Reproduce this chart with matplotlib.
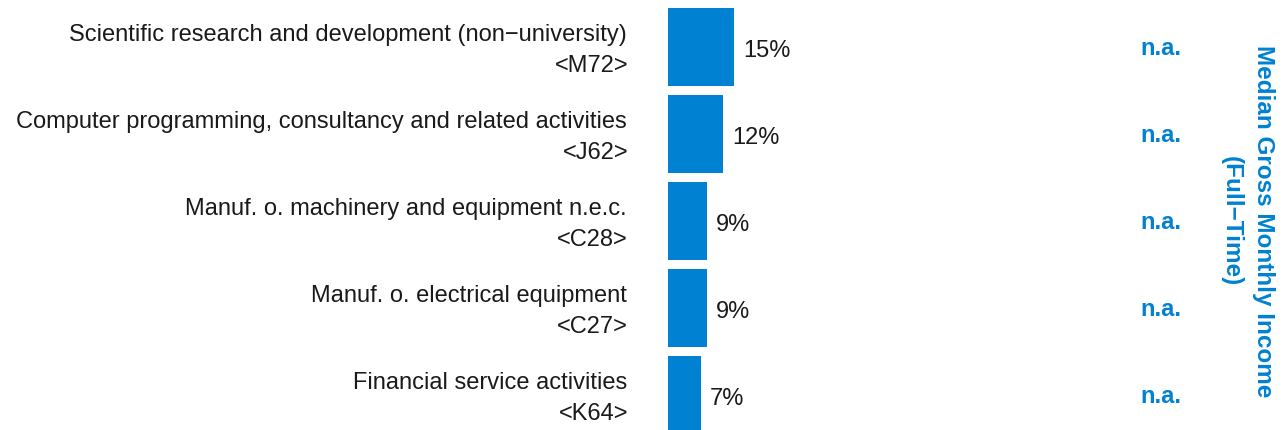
import matplotlib
matplotlib.use("Agg")
import matplotlib.pyplot as plt
import matplotlib.transforms as mtransforms

plt.rcParams['font.family'] = ['Liberation Sans', 'DejaVu Sans']

names = ['Scientific research and development (non\u2212university)',
         'Computer programming, consultancy and related activities',
         'Manuf. o. machinery and equipment n.e.c.',
         'Manuf. o. electrical equipment',
         'Financial service activities']
codes = ['<M72>', '<J62>', '<C28>', '<C27>', '<K64>']
shares = [14.6, 12.1, 8.6, 8.6, 7.3]
share_labels = ['15%', '12%', '9%', '9%', '7%']
income = ['n.a.', 'n.a.', 'n.a.', 'n.a.', 'n.a.']

blue = '#0081D1'
W, H = 1284, 430

fig = plt.figure(figsize=(W / 100, H / 100), dpi=100)
ax = fig.add_axes([668 / W, 0, 532 / W, 426.5 / H])
ax.set_xlim(0, 532 / 4.53)
ax.set_ylim(4.40, -0.5)
ax.axis('off')

ypos = list(range(len(names)))
ax.barh(ypos, shares, height=0.90, color=blue, left=0)

for y, v, lab in zip(ypos, shares, share_labels):
    ax.annotate(lab, (v, y), xytext=(6.5, -7.3), textcoords='offset points',
                ha='left', va='baseline', fontsize=17, color='#1a1a1a')

# category labels, right aligned left of the bars
lab_tr = mtransforms.blended_transform_factory(fig.transFigure, ax.transData)
for y, n, c in zip(ypos, names, codes):
    fig.text(627 / W, y - 0.07, n, transform=lab_tr, ha='right', va='baseline',
             fontsize=17, color='#1a1a1a')
    fig.text(628 / W, y + 0.285, c, transform=lab_tr, ha='right', va='baseline',
             fontsize=17, color='#1a1a1a')

for y, t in zip(ypos, income):
    fig.text(1161 / W, y + 0.092, t, transform=lab_tr, ha='center', va='baseline',
             fontsize=17, fontweight='bold', color=blue)

fig.text(1247 / W, 1 - 221 / H, 'Median Gross Monthly Income\n(Full\u2212Time)',
         rotation=-90, ha='center', va='center', multialignment='center',
         fontsize=17.5, fontweight='bold', color=blue, linespacing=1.5)

fig.savefig('out.png', dpi=100)
